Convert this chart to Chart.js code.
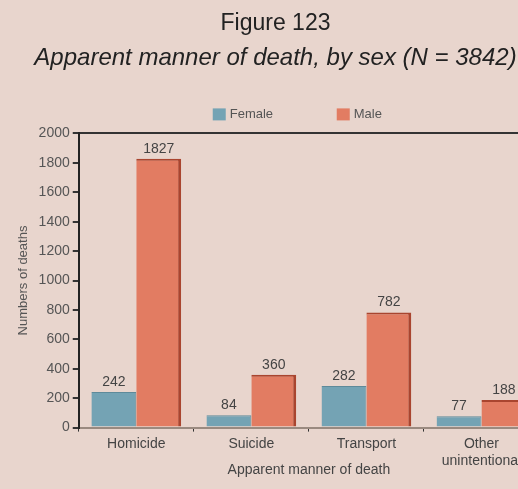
<!DOCTYPE html>
<html>
<head>
<meta charset="utf-8">
<script src="https://cdn.jsdelivr.net/npm/chart.js@4/dist/chart.umd.min.js"></script>
<style>
  html, body { margin: 0; padding: 0; background: #e8d5cd; overflow: hidden; }
  #wrap { width: 545px; height: 489px; }
</style>
</head>
<body>
<div id="wrap"><canvas id="myChart" width="545" height="489"></canvas></div>
<script>
const ctx = document.getElementById("myChart").getContext("2d");

const categories = ['Homicide', 'Suicide', 'Transport', ['Other', 'unintentional']];
const female = [242, 84, 282, 77];
const male = [1827, 360, 782, 188];
const yTicks = [0, 200, 400, 600, 800, 1000, 1200, 1400, 1600, 1800, 2000];

const fontName = "'Liberation Sans', Arial, sans-serif";

// values above the bars
const valueLabels = {
    id: 'valueLabels',
    afterDatasetsDraw(chart) {
        const c = chart.ctx;
        c.save();
        c.font = "14px " + fontName;
        c.fillStyle = "#444";
        c.textAlign = "center";
        c.textBaseline = "bottom";
        chart.data.datasets.forEach((ds, i) => {
            chart.getDatasetMeta(i).data.forEach((bar, j) => {
                c.fillText(ds.data[j], bar.x, bar.y - 3);
            });
        });
        c.restore();
    }
};

// legend sitting just above the plot frame
const topLegend = {
    id: 'topLegend',
    afterDraw(chart) {
        const c = chart.ctx;
        const area = chart.chartArea;
        const y = area.top - 19;
        const offsets = [134, 258];
        c.save();
        c.font = "13px " + fontName;
        c.textBaseline = "middle";
        chart.data.datasets.forEach((ds, i) => {
            const x = area.left + offsets[i];
            c.fillStyle = ds.backgroundColor;
            c.fillRect(x, y - 6, 13, 12);
            c.fillStyle = "#555";
            c.fillText(ds.label, x + 17, y);
        });
        c.restore();
    }
};

const data = {
    labels: categories,
    datasets: [
        {
            label: "Female",
            data: female,
            backgroundColor: "#74a3b4",
            borderColor: "#5e8a9a",
            borderWidth: { top: 1, right: 1, left: 0, bottom: 0 },
            borderSkipped: false,
        },
        {
            label: "Male",
            data: male,
            backgroundColor: "#e27c62",
            borderColor: "#a9452f",
            borderWidth: { top: 2, right: 3, left: 0, bottom: 0 },
            borderSkipped: false,
        },
    ],
};

const config = {
    type: "bar",
    data: data,
    plugins: [valueLabels, topLegend],
    options: {
        responsive: false,
        animation: false,
        categoryPercentage: 0.78,
        barPercentage: 1.0,
        layout: { padding: { left: 12, right: 6, top: 0, bottom: 10 } },
        plugins: {
            tooltip: { enabled: false },
            legend: { display: false },
            title: {
                display: true,
                text: "Figure 123",
                color: "#222",
                font: { family: fontName, size: 23, weight: "normal" },
                padding: { top: 10, bottom: 6 },
            },
            subtitle: {
                display: true,
                text: "Apparent manner of death, by sex (N = 3842)",
                color: "#222",
                font: { family: fontName, size: 24, style: "italic" },
                padding: { bottom: 61 },
            },
        },
        scales: {
            x: {
                grid: {
                    offset: true,
                    drawOnChartArea: false,
                    tickLength: 4,
                    color: "#333",
                },
                border: { color: "#9a8a80", width: 2 },
                ticks: {
                    color: "#444",
                    font: { family: fontName, size: 14 },
                    padding: 4,
                },
                title: {
                    display: true,
                    text: "Apparent manner of death",
                    color: "#444",
                    font: { family: fontName, size: 14 },
                    padding: { top: -11, bottom: 0 },
                },
            },
            y: {
                min: 0,
                max: 2000,
                afterBuildTicks: (axis) => {
                    axis.ticks = yTicks.map(v => ({ value: v }));
                },
                grid: {
                    color: (c) => c.tick && c.tick.value === 2000 ? "#333" : "transparent",
                    tickColor: "#333",
                    tickLength: 6,
                    lineWidth: 2,
                },
                border: { color: "#222", width: 2 },
                ticks: {
                    color: "#555",
                    font: { family: fontName, size: 14 },
                    padding: 3,
                    callback: (v) => String(v),
                },
                title: {
                    display: true,
                    text: "Numbers of deaths",
                    color: "#555",
                    font: { family: fontName, size: 13 },
                    padding: { bottom: 4 },
                },
            },
        },
    },
};

const myChart = new Chart(ctx, config);
</script>
</body>
</html>
